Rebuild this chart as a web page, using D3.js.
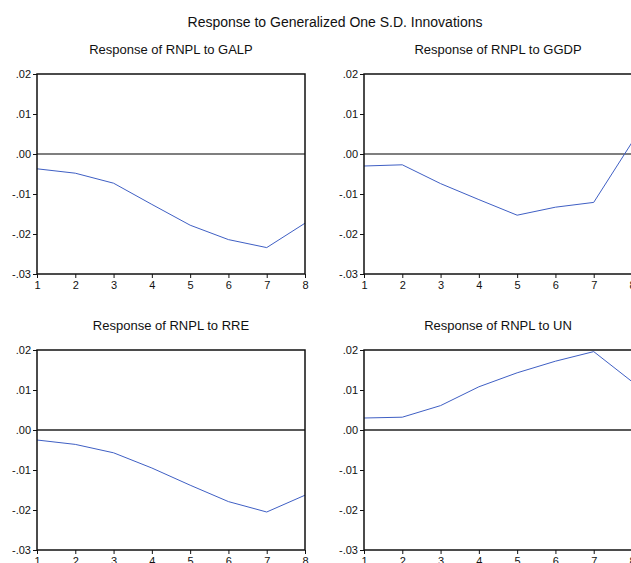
<!DOCTYPE html>
<html>
<head>
<meta charset="utf-8">
<script src="https://cdn.jsdelivr.net/npm/d3@7"></script>
<style>
  html, body { margin: 0; padding: 0; background: #fff; }
  svg { display: block; font-family: "Liberation Sans", Arial, sans-serif; }
</style>
</head>
<body>
<svg id="chart" width="631" height="563"></svg>
<script>
const mainTitle = "Response to Generalized One S.D. Innovations";
const periods = [1, 2, 3, 4, 5, 6, 7, 8];
const panelTitles = ["Response of RNPL to GALP", "Response of RNPL to GGDP", "Response of RNPL to RRE", "Response of RNPL to UN"];
const respGALP = [-0.0037, -0.0048, -0.0073, -0.0126, -0.0178, -0.0214, -0.0234, -0.0173];
const respGGDP = [-0.0030, -0.0027, -0.0074, -0.0114, -0.0153, -0.0133, -0.0121, 0.0029];
const respRRE  = [-0.0025, -0.0036, -0.0057, -0.0095, -0.0138, -0.0179, -0.0205, -0.0163];
const respUN   = [0.0030, 0.0032, 0.0061, 0.0108, 0.0143, 0.0172, 0.0196, 0.0121];
const yTickValues = [-0.03, -0.02, -0.01, 0.00, 0.01, 0.02];
const yTickLabels = ["-.03", "-.02", "-.01", ".00", ".01", ".02"];
const seriesList = [respGALP, respGGDP, respRRE, respUN];

const svg = d3.select("#chart");
const W = 268, H = 200;
const origins = [[37, 74], [364, 74], [37, 350], [364, 350]];
const zeroColors = ["#555", "#555", "#222", "#222"];

svg.append("text")
  .attr("x", 335).attr("y", 27)
  .attr("text-anchor", "middle")
  .attr("font-size", 14).attr("fill", "#111")
  .text(mainTitle);

const x = d3.scaleLinear().domain([1, 8]).range([0, W]);
const y = d3.scaleLinear().domain([-0.03, 0.02]).range([H, 0]);

seriesList.forEach((vals, i) => {
  const [ox, oy] = origins[i];
  const g = svg.append("g").attr("transform", `translate(${ox},${oy})`);

  g.append("text")
    .attr("x", W / 2).attr("y", -20)
    .attr("text-anchor", "middle")
    .attr("font-size", 13).attr("fill", "#111")
    .text(panelTitles[i]);

  g.append("line")
    .attr("x1", 0).attr("x2", W)
    .attr("y1", y(0)).attr("y2", y(0))
    .attr("stroke", zeroColors[i]).attr("stroke-width", 1.3);

  const line = d3.line().x((d, j) => x(periods[j])).y(d => y(d));
  g.append("path")
    .datum(vals)
    .attr("d", line)
    .attr("fill", "none")
    .attr("stroke", "#3f5fc4")
    .attr("stroke-width", 1);

  g.append("rect")
    .attr("x", 0).attr("y", 0).attr("width", W).attr("height", H)
    .attr("fill", "none").attr("stroke", "#111").attr("stroke-width", 1.5);

  const yAxis = d3.axisLeft(y)
    .tickValues(yTickValues)
    .tickFormat((d, k) => yTickLabels[k])
    .tickSize(4).tickPadding(2);
  const ya = g.append("g").call(yAxis);
  ya.select(".domain").remove();
  ya.selectAll("line").attr("stroke", "#111");
  ya.selectAll("text").attr("font-size", 11).attr("fill", "#111")
    .attr("font-family", "Liberation Sans, Arial, sans-serif");

  const xAxis = d3.axisBottom(x)
    .tickValues(periods)
    .tickFormat(d3.format("d"))
    .tickSize(4).tickPadding(3);
  const xa = g.append("g").attr("transform", `translate(0,${H})`).call(xAxis);
  xa.select(".domain").remove();
  xa.selectAll("line").attr("stroke", "#111");
  xa.selectAll("text").attr("font-size", 11).attr("fill", "#111")
    .attr("font-family", "Liberation Sans, Arial, sans-serif");
});
</script>
</body>
</html>
